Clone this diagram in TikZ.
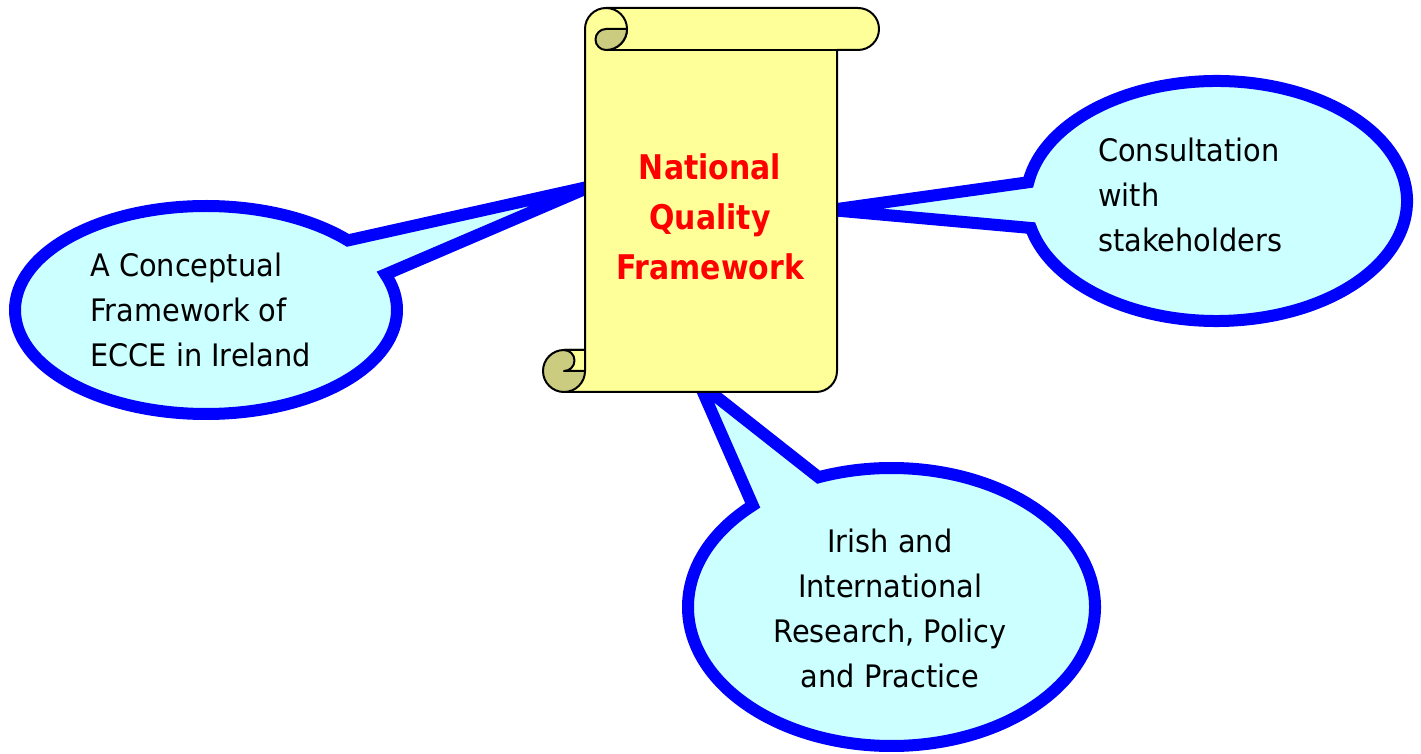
\documentclass[tikz,border=0pt]{standalone}
\usepackage{fontspec}
\setmainfont{DejaVu Sans}
\newfontfamily\narrowsans[FakeStretch=0.93]{DejaVu Sans}
\newfontfamily\titlesans[FakeStretch=0.88]{DejaVu Sans}
\usetikzlibrary{calc}
\definecolor{bubblefill}{RGB}{204,255,255}
\definecolor{bubbleline}{RGB}{0,0,255}
\definecolor{scrollfill}{RGB}{255,255,153}
\definecolor{scrolldark}{RGB}{204,204,128}
\definecolor{titlered}{RGB}{255,0,0}
\tikzset{
  bubble/.style={fill=bubblefill, draw=bubbleline, line width=12pt, line join=miter, miter limit=12},
  scrollpart/.style={fill=scrollfill, draw=black, line width=2pt, line join=round},
  scrollcurl/.style={fill=scrolldark, draw=black, line width=2pt, line join=round},
  bubbletext/.style={font=\narrowsans\fontsize{31}{45}\selectfont, inner sep=0pt},
  titletext/.style={font=\titlesans\fontsize{34}{50}\selectfont\bfseries, text=titlered, inner sep=0pt, align=center}
}
\begin{document}
\begin{tikzpicture}[x=1pt,y=1pt]
\useasboundingbox (0,0) rectangle (1421,753);

% speech bubbles (behind the scroll)
\coordinate (cl) at (206,443);
\coordinate (cr) at (1216.5,552);
\coordinate (cb) at (891.5,146);
\coordinate (tipl) at (592,567);
\coordinate (tipr) at (830,543);
\coordinate (tipb) at (699,370);

\draw[bubble] ($(cl)+(42:191 and 104)$)
  arc[start angle=42, end angle=380, x radius=191pt, y radius=104pt]
  -- (tipl) -- cycle;
\draw[bubble] ($(cr)+(193:190.5 and 120)$)
  arc[start angle=193, end angle=531, x radius=190.5pt, y radius=120pt]
  -- (tipr) -- cycle;
\draw[bubble] ($(cb)+(133:203.5 and 139)$)
  arc[start angle=133, end angle=471, x radius=203.5pt, y radius=139pt]
  -- (tipb) -- cycle;

% the scroll
\draw[scrollpart] (606,745) -- (858,745) arc[start angle=90, end angle=-90, radius=21pt]
  -- (837,703) -- (837,382) arc[start angle=0, end angle=-90, radius=21pt]
  -- (564,361) -- (564,403) -- (585,403) -- (585,724)
  arc[start angle=180, end angle=90, radius=21pt] -- cycle;
\draw[line width=2pt] (606,703) -- (837,703);
\draw[line width=2pt] (606,745) arc[start angle=90, end angle=-90, radius=21pt];
\draw[scrollcurl] (606,724) -- (627,724) arc[start angle=0, end angle=-90, radius=21pt]
  arc[start angle=-90, end angle=-270, radius=10.5pt] -- cycle;
\draw[scrollcurl] (564,382) circle[radius=21pt];
\draw[scrollpart] (564,403) -- (585,403) -- (585,382) -- (564,382)
  arc[start angle=-90, end angle=90, radius=10.5pt] -- cycle;

% texts (anchored on the baseline of their last line)
\node[titletext, anchor=base] (title) at (710,473) {National\\Quality\\Framework};
\node[bubbletext, anchor=base west, align=left] (concept) at (90,386)
  {A Conceptual\\Framework of\\ECCE in Ireland};
\node[bubbletext, anchor=base west, align=left] (consult) at (1098,501)
  {Consultation\\with\\stakeholders};
\node[bubbletext, anchor=base, align=center] (research) at (890,66)
  {Irish and\\International\\Research, Policy\\and Practice};
\end{tikzpicture}
\end{document}
